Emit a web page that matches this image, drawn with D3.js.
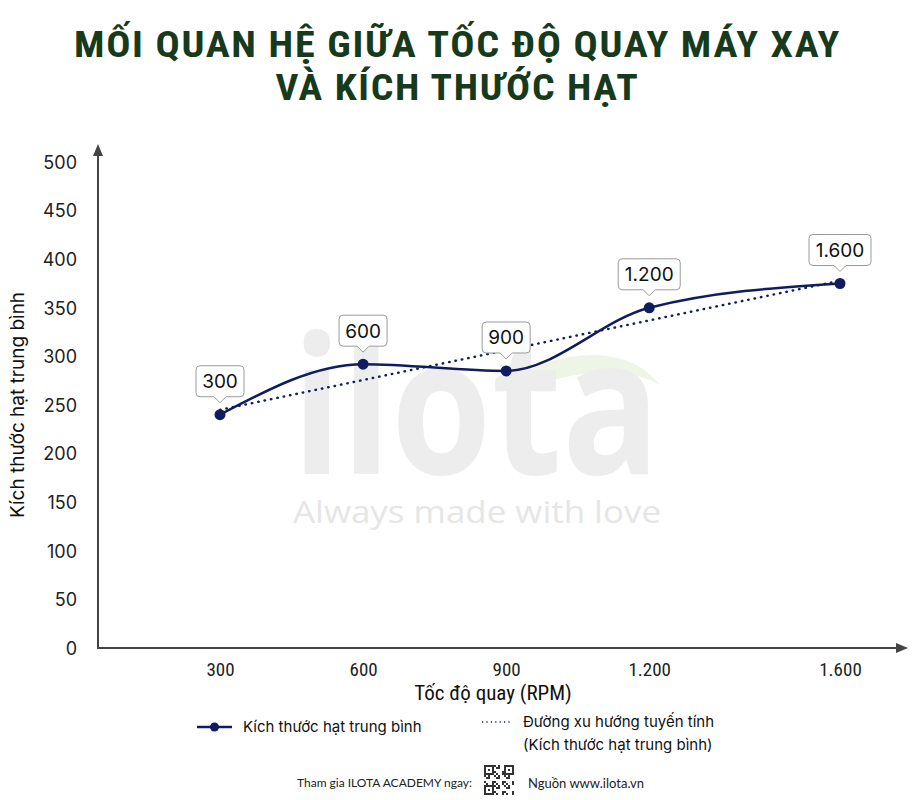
<!DOCTYPE html>
<html>
<head>
<meta charset="utf-8">
<script src="https://cdn.jsdelivr.net/npm/d3@7"></script>
<style>
  body { margin: 0; background: #fff; }
  svg { display: block; }
</style>
</head>
<body>
<div id="chart"></div>
<script>
// data
var rpm = [300, 600, 900, 1200, 1600];
var sizes = [240, 292, 285, 350, 375];
var yTicks = [0, 50, 100, 150, 200, 250, 300, 350, 400, 450, 500];
var xTickLabels = ["300", "600", "900", "1.200", "1.600"];
var seriesName = "Kích thước hạt trung bình";
var trendName = ["Đường xu hướng tuyến tính", "(Kích thước hạt trung bình)"];
var titleLines = ["MỐI QUAN HỆ GIỮA TỐC ĐỘ QUAY MÁY XAY", "VÀ KÍCH THƯỚC HẠT"];

var W = 915, H = 800;
var navy = "#0f1d5e";
var condensed = "'Liberation Sans Narrow', 'Arial Narrow', 'Roboto Condensed', 'Liberation Sans', sans-serif";
var sans = "'Inter', 'Roboto', 'Noto Sans', sans-serif";

var svg = d3.select("#chart").append("svg")
  .attr("width", W).attr("height", H);

// title
var titleWidths = [767, 364];
svg.selectAll(".title")
  .data(titleLines)
  .enter().append("text")
  .attr("class", "title")
  .attr("x", W / 2)
  .attr("y", function (d, i) { return 57 + i * 43; })
  .attr("text-anchor", "middle")
  .attr("font-family", condensed)
  .attr("font-weight", "bold")
  .attr("font-size", 36)
  .attr("letter-spacing", 1.5)
  .attr("textLength", function (d, i) { return titleWidths[i]; })
  .attr("lengthAdjust", "spacingAndGlyphs")
  .attr("fill", "#173a1c")
  .text(function (d) { return d; });

// scales
var x = d3.scaleLinear().domain([300, 1600]).range([220, 840]);
var y = d3.scaleLinear().domain([0, 500]).range([648, 162]);
var x0 = 98, yBase = 648;

// watermark
var wm = svg.append("g").attr("pointer-events", "none");
wm.append("path")
  .attr("d", "M505,385 C560,345 630,345 660,385 C640,372 590,365 540,385 Z")
  .attr("fill", "#eef4e6");
wm.append("text")
  .attr("x", 292).attr("y", 474)
  .attr("font-family", "'Open Sans', sans-serif")
  .attr("font-weight", "bold")
  .attr("font-size", 190)
  .attr("textLength", 368)
  .attr("lengthAdjust", "spacingAndGlyphs")
  .attr("fill", "#ededed")
  .text("ilota");
wm.append("text")
  .attr("x", 293).attr("y", 523)
  .attr("font-family", "'Open Sans', sans-serif")
  .attr("font-size", 31)
  .attr("textLength", 368)
  .attr("lengthAdjust", "spacingAndGlyphs")
  .attr("fill", "#e6e6e6")
  .text("Always made with love");

// axes
var axisColor = "#444";
svg.append("line")
  .attr("x1", x0).attr("x2", x0)
  .attr("y1", yBase).attr("y2", 152)
  .attr("stroke", axisColor).attr("stroke-width", 2);
svg.append("path")
  .attr("d", "M" + x0 + ",144 L" + (x0 - 5) + ",156 L" + (x0 + 5) + ",156 Z")
  .attr("fill", axisColor);
svg.append("line")
  .attr("x1", x0 - 1).attr("x2", 900)
  .attr("y1", yBase).attr("y2", yBase)
  .attr("stroke", axisColor).attr("stroke-width", 2);
svg.append("path")
  .attr("d", "M908," + yBase + " L896," + (yBase - 5) + " L896," + (yBase + 5) + " Z")
  .attr("fill", axisColor);

var yAxis = d3.axisLeft(y).tickValues(yTicks).tickSize(0).tickPadding(0);
var gy = svg.append("g")
  .attr("transform", "translate(77,0)")
  .call(yAxis);
gy.select(".domain").remove();
gy.selectAll("text")
  .attr("font-family", sans)
  .attr("font-size", 18)
  .attr("fill", "#222")
  .attr("dy", "0.35em");

var xAxis = d3.axisBottom(x).tickValues(rpm).tickSize(0).tickPadding(0)
  .tickFormat(function (d, i) { return xTickLabels[i]; });
var gx = svg.append("g")
  .attr("transform", "translate(0," + (yBase + 14) + ")")
  .call(xAxis);
gx.select(".domain").remove();
gx.selectAll("text")
  .attr("font-family", condensed)
  .attr("font-size", 19)
  .attr("fill", "#222")
  .attr("dy", "0.71em");

svg.append("text")
  .attr("x", 493).attr("y", 700)
  .attr("text-anchor", "middle")
  .attr("font-family", condensed)
  .attr("font-size", 21)
  .attr("fill", "#111")
  .text("Tốc độ quay (RPM)");

svg.append("text")
  .attr("transform", "translate(24,405) rotate(-90)")
  .attr("text-anchor", "middle")
  .attr("font-family", sans)
  .attr("font-size", 19)
  .attr("fill", "#111")
  .text("Kích thước hạt trung bình");

// linear trend (least squares)
var mx = d3.mean(rpm), my = d3.mean(sizes);
var sxy = d3.sum(rpm, function (d, i) { return (d - mx) * (sizes[i] - my); });
var sxx = d3.sum(rpm, function (d) { return (d - mx) * (d - mx); });
var slope = sxy / sxx, intercept = my - slope * mx;
var trend = [rpm[0], rpm[rpm.length - 1]].map(function (d) {
  return [d, intercept + slope * d];
});

svg.append("path")
  .datum(trend)
  .attr("d", d3.line().x(function (d) { return x(d[0]); }).y(function (d) { return y(d[1]); }))
  .attr("fill", "none")
  .attr("stroke", navy)
  .attr("stroke-width", 2.4)
  .attr("stroke-dasharray", "0.5,6")
  .attr("stroke-linecap", "round");

var pts = rpm.map(function (d, i) { return [d, sizes[i]]; });
svg.append("path")
  .datum(pts)
  .attr("d", d3.line().curve(d3.curveMonotoneX)
    .x(function (d) { return x(d[0]); }).y(function (d) { return y(d[1]); }))
  .attr("fill", "none")
  .attr("stroke", navy)
  .attr("stroke-width", 2.5);

svg.selectAll(".dot")
  .data(pts)
  .enter().append("circle")
  .attr("class", "dot")
  .attr("cx", function (d) { return x(d[0]); })
  .attr("cy", function (d) { return y(d[1]); })
  .attr("r", 5.5)
  .attr("fill", navy);

// callout labels
var callouts = svg.selectAll(".callout")
  .data(pts)
  .enter().append("g")
  .attr("class", "callout")
  .attr("transform", function (d) { return "translate(" + x(d[0]) + "," + (y(d[1]) - 12) + ")"; });

callouts.each(function (d, i) {
  var g = d3.select(this);
  var label = xTickLabels[i];
  var w = label.length > 3 ? 62 : 48, h = 31, r = 4, tip = 6;
  var left = -w / 2, top = -h - tip;
  var p = "M" + (left + r) + "," + top +
    " H" + (w / 2 - r) + " Q" + (w / 2) + "," + top + " " + (w / 2) + "," + (top + r) +
    " V" + (-tip - r) + " Q" + (w / 2) + "," + (-tip) + " " + (w / 2 - r) + "," + (-tip) +
    " H" + tip + " L0,0 L" + (-tip) + "," + (-tip) +
    " H" + (left + r) + " Q" + left + "," + (-tip) + " " + left + "," + (-tip - r) +
    " V" + (top + r) + " Q" + left + "," + top + " " + (left + r) + "," + top + " Z";
  g.append("path")
    .attr("d", p)
    .attr("fill", "#fff")
    .attr("stroke", "#9a9a9a")
    .attr("stroke-width", 1);
  g.append("text")
    .attr("x", 0).attr("y", top + h / 2)
    .attr("dy", "0.36em")
    .attr("text-anchor", "middle")
    .attr("font-family", sans)
    .attr("font-size", 19)
    .attr("fill", "#111")
    .text(label);
});

// legend
var lg = svg.append("g").attr("font-family", sans).attr("font-size", 15).attr("fill", "#111");
lg.append("line").attr("x1", 197).attr("x2", 232).attr("y1", 727).attr("y2", 727)
  .attr("stroke", navy).attr("stroke-width", 2.5);
lg.append("circle").attr("cx", 214.5).attr("cy", 727).attr("r", 4.5).attr("fill", navy);
lg.append("text").attr("x", 243).attr("y", 727).attr("dy", "0.35em").text(seriesName);
lg.append("line").attr("x1", 482).attr("x2", 512).attr("y1", 722).attr("y2", 722)
  .attr("stroke", navy).attr("stroke-width", 1.6)
  .attr("stroke-dasharray", "1.2,3.2");
lg.append("text").attr("x", 523).attr("y", 722).attr("dy", "0.35em").text(trendName[0]);
lg.append("text").attr("x", 523).attr("y", 745).attr("dy", "0.35em").text(trendName[1]);

// footer
var ft = svg.append("g").attr("font-family", "'Lato', 'Noto Sans', sans-serif").attr("font-size", 12).attr("fill", "#222");
ft.append("text").attr("x", 297).attr("y", 783).attr("dy", "0.35em").text("Tham gia ILOTA ACADEMY ngay:");
ft.append("text").attr("x", 528).attr("y", 783).attr("dy", "0.35em").attr("font-size", 13).text("Nguồn www.ilota.vn");

// qr-like badge
var qr = svg.append("g").attr("transform", "translate(484,765)");
var n = 15, cs = 2;
qr.append("rect").attr("width", n * cs).attr("height", n * cs).attr("fill", "#fff");
var cells = [];
for (var r = 0; r < n; r++) {
  for (var c = 0; c < n; c++) {
    var finder = (r < 5 && c < 5) || (r < 5 && c >= n - 5) || (r >= n - 5 && c < 5);
    var on;
    if (finder) {
      var rr = r < 5 ? r : r - (n - 5), cc = c < 5 ? c : c - (n - 5);
      on = rr === 0 || rr === 4 || cc === 0 || cc === 4 || (rr === 2 && cc === 2);
    } else {
      on = ((r * 7 + c * 13 + r * c) % 5) < 2;
    }
    if (on) cells.push([r, c]);
  }
}
qr.selectAll("rect.cell").data(cells).enter().append("rect")
  .attr("class", "cell")
  .attr("x", function (d) { return d[1] * cs; })
  .attr("y", function (d) { return d[0] * cs; })
  .attr("width", cs).attr("height", cs)
  .attr("fill", "#333");
</script>
</body>
</html>
